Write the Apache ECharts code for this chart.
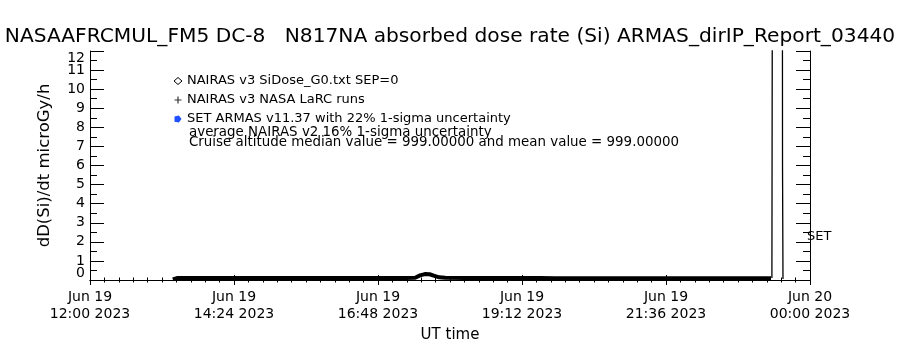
<!DOCTYPE html>
<html>
<head>
<meta charset="utf-8">
<script src="https://cdn.jsdelivr.net/npm/echarts@6/dist/echarts.min.js"></script>
<style>html,body{margin:0;padding:0;background:#fff}#chart{width:900px;height:350px}</style>
</head>
<body>
<div id="chart"></div>
<script>
// ---- data (hours UT on Jun 19; 24 = Jun 20 00:00) ----
const titleText = 'NASAAFRCMUL_FM5 DC-8   N817NA absorbed dose rate (Si) ARMAS_dirIP_Report_03440';
const xTickLabels = ['Jun 19\n12:00 2023', 'Jun 19\n14:24 2023', 'Jun 19\n16:48 2023', 'Jun 19\n19:12 2023', 'Jun 19\n21:36 2023', 'Jun 20\n00:00 2023'];
const yEndLabels = [0, 12];
const legendNames = ['NAIRAS v3 SiDose_G0.txt SEP=0', 'NAIRAS v3 NASA LaRC runs', 'SET ARMAS v11.37 with 22% 1-sigma uncertainty'];
const noteLines = ['average NAIRAS v2 16% 1-sigma uncertainty', 'Cruise altitude median value = 999.00000 and mean value = 999.00000'];

const nairasTime = [13.38, 13.45, 13.75, 14.00, 14.25, 14.50, 14.75, 15.00, 15.25, 15.50, 15.75, 16.00, 16.25, 16.50, 16.75, 17.00, 17.25, 17.42, 17.50, 17.58, 17.66, 17.74, 17.82, 17.92, 18.25, 18.50, 18.75, 19.00, 19.25, 19.50, 19.75, 20.00, 20.25, 20.50, 20.75, 21.00, 21.25, 21.50, 21.75, 22.00, 22.25, 22.50, 22.75, 23.00, 23.25, 23.35];
const nairasDose = [0.03, 0.10, 0.10, 0.11, 0.11, 0.11, 0.11, 0.11, 0.11, 0.11, 0.11, 0.11, 0.11, 0.11, 0.11, 0.11, 0.11, 0.12, 0.24, 0.31, 0.30, 0.22, 0.14, 0.12, 0.11, 0.11, 0.11, 0.11, 0.11, 0.10, 0.09, 0.09, 0.09, 0.09, 0.09, 0.09, 0.09, 0.09, 0.09, 0.09, 0.09, 0.09, 0.09, 0.09, 0.09, 0.09];

const larcTime = [];
const larcDose = [];
const armasTime = [];
const armasDose = [];

const setTime = [23.365, 23.372, 23.540, 23.542, 23.550];
const setDose = [0.10, 15.0, 15.0, 6.0, 0.05];
const setLabelPos = [23.95, 2.25];

const FONT = 'DejaVu Sans';
const zip = (a, b) => a.map((v, i) => [v, b[i]]);

const chart = echarts.init(document.getElementById('chart'), null, {renderer: 'canvas'});

const xTickCommon = {
  axisLine: {show: true, lineStyle: {color: '#000', width: 1}},
  axisTick: {show: true, inside: true, length: 5, lineStyle: {color: '#000', width: 1}},
  minorTick: {show: true, splitNumber: 10, length: 2.5, lineStyle: {color: '#000', width: 1}},
  splitLine: {show: false}, minorSplitLine: {show: false}
};
const yTickCommon = {
  axisLine: {show: true, lineStyle: {color: '#000', width: 1}},
  axisTick: {show: true, inside: true, length: 14, lineStyle: {color: '#000', width: 1}},
  minorTick: {show: true, splitNumber: 2, length: 7, lineStyle: {color: '#000', width: 1}},
  splitLine: {show: false}, minorSplitLine: {show: false}
};

chart.setOption({
  animation: false,
  backgroundColor: '#fff',
  title: {
    text: titleText, left: 'center', top: 27, padding: 0,
    textStyle: {fontFamily: FONT, fontSize: 20.2, fontWeight: 'normal', color: '#000'}
  },
  grid: {left: 90, right: 90, top: 51, bottom: 70, containLabel: false},
  legend: {
    orient: 'vertical', left: 167, top: 69, itemWidth: 8, itemHeight: 7, itemGap: 5,
    selectedMode: false,
    textStyle: {fontFamily: FONT, fontSize: 13, color: '#000', lineHeight: 14},
    data: [
      {name: legendNames[0], icon: 'diamond', itemStyle: {color: '#fff', borderColor: '#000', borderWidth: 1}},
      {name: legendNames[1], icon: 'path://M4,0 L4,8 M0,4 L8,4', itemStyle: {color: 'none', borderColor: '#000', borderWidth: 1.2}},
      {name: legendNames[2], icon: 'path://M0,1 L5,0 L8,4 L5,8 L0,7 Z', itemStyle: {color: '#1f4fff', borderWidth: 0}}
    ]
  },
  graphic: [
    {type: 'text', left: 189, top: 126, style: {text: noteLines[0], font: '13.4px "DejaVu Sans"', fill: '#000'}},
    {type: 'text', left: 189, top: 136, style: {text: noteLines[1], font: '13.4px "DejaVu Sans"', fill: '#000'}}
  ],
  xAxis: [
    Object.assign({
      type: 'value', min: 12, max: 24, interval: 2.4, position: 'bottom',
      name: 'UT time', nameLocation: 'middle', nameGap: 42,
      nameTextStyle: {fontFamily: FONT, fontSize: 15, color: '#000'},
      axisLabel: {
        show: true, margin: 9, color: '#000', fontFamily: FONT, fontSize: 14, lineHeight: 17,
        showMinLabel: true, showMaxLabel: true,
        formatter: v => xTickLabels[Math.round((v - 12) / 2.4)]
      }
    }, xTickCommon),
    Object.assign({
      type: 'value', min: 12, max: 24, interval: 2.4, position: 'top', axisLabel: {show: false}
    }, xTickCommon)
  ],
  yAxis: [
    Object.assign({
      type: 'value', min: 0, max: 12, interval: 1, position: 'left',
      name: 'dD(Si)/dt microGy/h', nameLocation: 'middle', nameGap: 37, nameRotate: 90,
      nameTextStyle: {fontFamily: FONT, fontSize: 16.5, color: '#000'},
      axisLabel: {show: true, margin: 5, color: '#000', fontFamily: FONT, fontSize: 14,
        showMinLabel: true, showMaxLabel: true,
        formatter: v => (yEndLabels.indexOf(v) >= 0 ? '' : String(v))}
    }, yTickCommon),
    Object.assign({
      type: 'value', min: 0, max: 12, interval: 1, position: 'right', axisLabel: {show: false}
    }, yTickCommon),
    {
      type: 'value', min: yEndLabels[0], max: yEndLabels[1], interval: 12, position: 'left',
      axisLine: {show: false}, axisTick: {show: false}, splitLine: {show: false},
      axisLabel: {show: true, margin: 5, color: '#000', fontFamily: FONT, fontSize: 14,
        showMinLabel: true, showMaxLabel: true,
        verticalAlignMinLabel: 'bottom', verticalAlignMaxLabel: 'top'}
    }
  ],
  series: [
    {
      name: legendNames[0], type: 'line', data: zip(nairasTime, nairasDose),
      symbol: 'none', lineStyle: {color: '#000', width: 4}, itemStyle: {color: '#000'}, clip: true, z: 3
    },
    {
      name: legendNames[1], type: 'scatter', data: zip(larcTime, larcDose),
      symbol: 'path://M4,0 L4,8 M0,4 L8,4', symbolSize: 7, itemStyle: {color: '#000'}
    },
    {
      name: legendNames[2], type: 'line', data: zip(armasTime, armasDose),
      symbol: 'none', lineStyle: {color: '#1f4fff', width: 1}, itemStyle: {color: '#1f4fff'}
    },
    {
      name: 'SET', type: 'line', data: zip(setTime, setDose), clip: true,
      symbol: 'none', lineStyle: {color: '#000', width: 1.3}, itemStyle: {color: '#000'}, z: 4,
      markPoint: {
        symbol: 'circle', symbolSize: 0,
        data: [{coord: setLabelPos, value: 'SET'}],
        label: {show: true, position: 'inside', align: 'left', formatter: 'SET',
          fontFamily: FONT, fontSize: 13, color: '#000'}
      }
    }
  ]
});
</script>
</body>
</html>
